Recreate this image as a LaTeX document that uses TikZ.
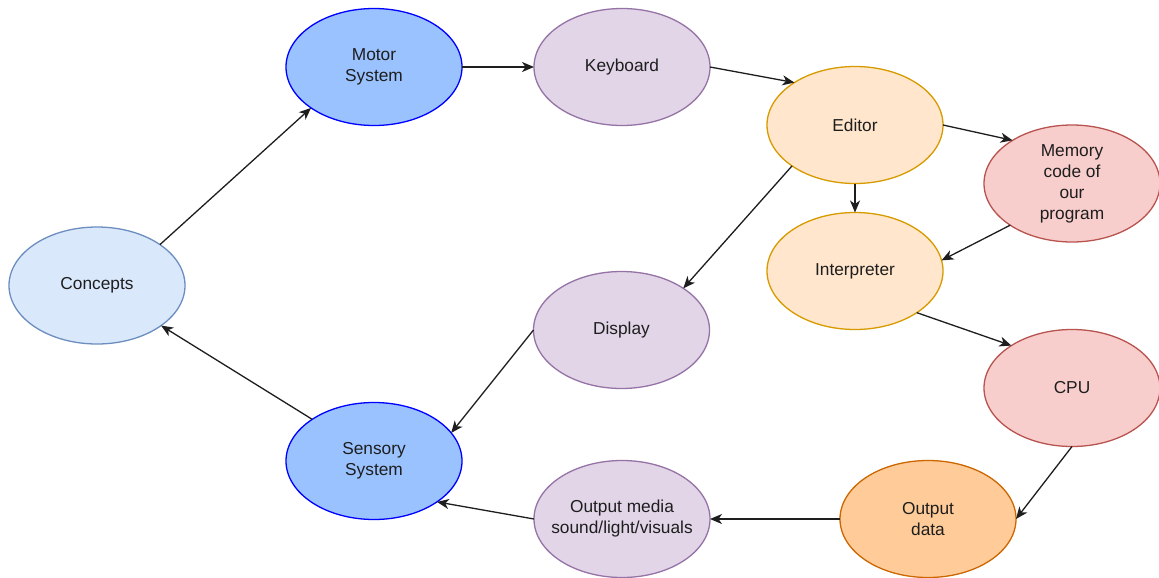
\documentclass[tikz,border=0pt]{standalone}
\usepackage{fontspec}
\setmainfont{Liberation Sans}
\usetikzlibrary{shapes.geometric,arrows.meta}
\definecolor{txt}{RGB}{30,30,30}
\definecolor{blueF}{HTML}{DAE8FC}\definecolor{blueD}{HTML}{6C8EBF}
\definecolor{sysF}{HTML}{99C2FF}\definecolor{sysD}{HTML}{0000FF}
\definecolor{purF}{HTML}{E1D5E7}\definecolor{purD}{HTML}{9673A6}
\definecolor{oraF}{HTML}{FFE6CC}\definecolor{oraD}{HTML}{D79B00}
\definecolor{redF}{HTML}{F8CECC}\definecolor{redD}{HTML}{B85450}
\definecolor{outF}{HTML}{FFCC99}\definecolor{outD}{HTML}{CC6600}
\begin{document}
\begin{tikzpicture}[x=1pt,y=-1pt,
  bub/.style={ellipse, draw, line width=1.3pt, minimum width=176pt, minimum height=117pt,
    inner sep=0pt, outer sep=0pt, align=center, text=txt,
    font=\fontsize{17.3}{21}\selectfont},
  concept/.style={bub, fill=blueF, draw=blueD},
  sys/.style={bub, fill=sysF, draw=sysD},
  dev/.style={bub, fill=purF, draw=purD},
  soft/.style={bub, fill=oraF, draw=oraD},
  hw/.style={bub, fill=redF, draw=redD},
  outd/.style={bub, fill=outF, draw=outD},
  link/.style={draw=txt, line width=1.3pt,
    -{Stealth[length=12pt, width=10pt, inset=3.5pt]}}]
\useasboundingbox (0,0) rectangle (1159,578);
\fill[white] (0,0) rectangle (1159,578);

\node[concept] (concepts) at (97,285.5) {Concepts};
\node[sys] (motor) at (374,67) {Motor\\System};
\node[dev] (keyboard) at (622,67) {Keyboard};
\node[soft] (editor) at (855,125) {Editor};
\node[hw] (memory) at (1072,183.5) {Memory\\code of\\our\\program};
\node[soft] (interp) at (855,271) {Interpreter};
\node[hw] (cpu) at (1072,388) {CPU};
\node[outd] (outdata) at (928,519) {Output\\data};
% the long label would widen the ellipse, so its horizontal padding is pulled in
\node[dev, inner xsep=-25pt] (media) at (622,519) {Output media\\sound/light/visuals};
\node[dev] (display) at (621.5,330) {Display};
\node[sys] (sensory) at (374,461) {Sensory\\System};

\draw[link] (concepts.33.7) -- (motor.213.5);
\draw[link] (motor.east) -- (keyboard.west);
\draw[link] (keyboard.east) -- (editor.145.7);
\draw[link] (editor.east) -- (memory.144);
\draw[link] (editor.south) -- (interp.north);
\draw[link] (editor.213.7) -- (display.34.5);
\draw[link] (memory.214.7) -- (interp.7.4);
\draw[link] (interp.326.3) -- (cpu.145.9);
\draw[link] (cpu.south) -- (outdata.east);
\draw[link] (outdata.west) -- (media.east);
\draw[link] (media.west) -- (sensory.327.5);
\draw[link] (display.west) -- (sensory.20);
\draw[link] (sensory.146) -- (concepts.328.4);
\end{tikzpicture}
\end{document}
